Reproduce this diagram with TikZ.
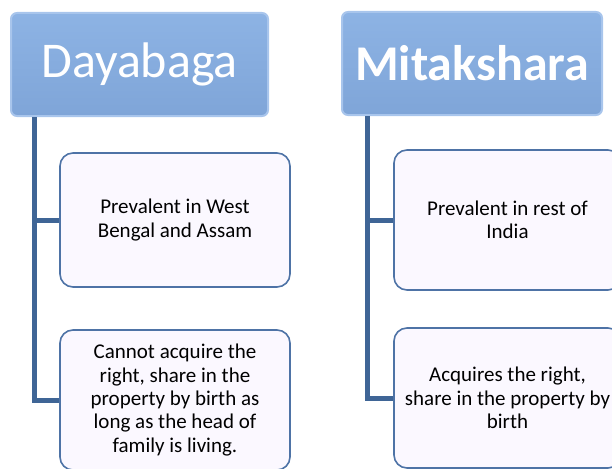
\documentclass[tikz,border=0pt]{standalone}
\usepackage{fontspec}
\setmainfont{Carlito}
\usetikzlibrary{positioning}

\definecolor{headblue}{HTML}{7FA5D8}
\definecolor{headtop}{HTML}{8DB3E4}
\definecolor{headrim}{HTML}{A8C5EC}
\definecolor{leafrim}{HTML}{4E73A6}
\definecolor{leaffill}{HTML}{FBF8FF}
\definecolor{trunk}{HTML}{3F6596}

\tikzset{
  headbox/.style={rounded corners=6pt, draw=headrim, line width=2pt,
    top color=headtop, bottom color=headblue, text=white,
    minimum height=103pt, font=\fontsize{50}{58}\selectfont},
  leafbox/.style={rounded corners=13pt, draw=leafrim, line width=1.6pt,
    fill=leaffill, align=center, inner sep=0pt,
    font=\fontsize{21}{23.3}\selectfont},
  branch/.style={draw=trunk, line width=5pt}
}

\begin{document}
\begin{tikzpicture}[x=1pt,y=-1pt]
  \clip (0,0) rectangle (612,468);

  % headers
  \node[headbox, minimum width=257pt] (daya) at (139.5,64.5) {Dayabaga};
  \node[headbox, minimum width=260pt] (mita) at (472,63.5) {\bfseries Mitakshara};

  % Dayabaga side
  \node[leafbox, minimum width=230pt, minimum height=134pt] (d1) at (175,220)
    {Prevalent in West\\Bengal and Assam};
  \node[leafbox, minimum width=230pt, minimum height=140pt] (d2) at (175,400)
    {Cannot acquire the\\right, share in the\\property by birth as\\long as the head of\\family is living.};

  % Mitakshara side
  \node[leafbox, minimum width=227pt, minimum height=140pt] (m1) at (507.5,220)
    {Prevalent in rest of\\India};
  \node[leafbox, minimum width=227pt, minimum height=140pt] (m2) at (507.5,398)
    {Acquires the right,\\share in the property by\\birth};

  % connectors
  \coordinate (droot) at ([xshift=24.5pt]daya.south west);
  \coordinate (mroot) at ([xshift=26pt]mita.south west);
  \draw[branch] (droot) |- (d2.west);
  \draw[branch] (droot) |- (d1.west);
  \draw[branch] (mroot) |- (m2.west);
  \draw[branch] (mroot) |- (m1.west);
\end{tikzpicture}
\end{document}
